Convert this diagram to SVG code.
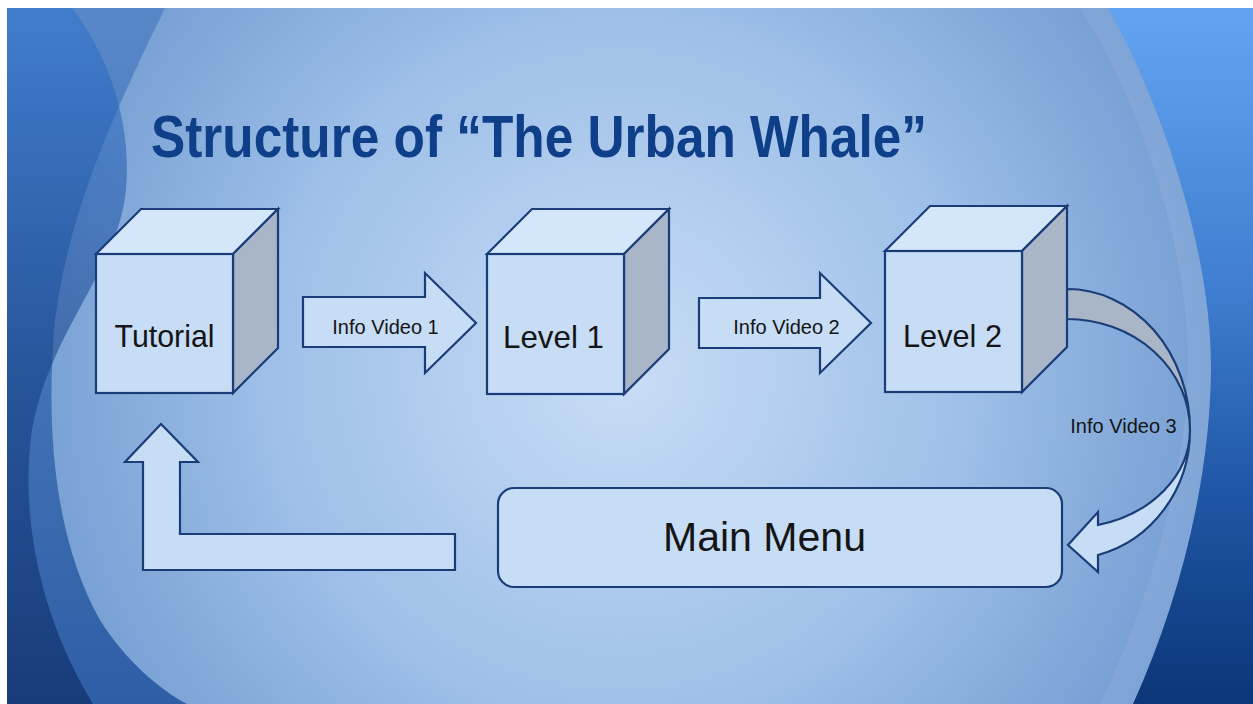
<svg xmlns="http://www.w3.org/2000/svg" width="1253" height="704" viewBox="0 0 1253 704">
<style>
.shp{stroke:#1a3c78;stroke-width:2.2;stroke-linejoin:miter}
.front{fill:#c7dcf5}
.top{fill:#d4e6fa}
.side{fill:#a9b6c8}
.lbl{font-family:"Liberation Sans",Arial,sans-serif;fill:#151515}
.title{font-family:"Liberation Sans",Arial,sans-serif;font-weight:bold;fill:#0f3f88}
</style>
<defs>
<radialGradient id="bg" gradientUnits="userSpaceOnUse" cx="620" cy="370" r="640">
<stop offset="0" stop-color="#c9ddf5"/>
<stop offset="0.55" stop-color="#9dbfe8"/>
<stop offset="1" stop-color="#7099cf"/>
</radialGradient>
<linearGradient id="rightG" x1="0" y1="0" x2="0" y2="1">
<stop offset="0" stop-color="#63a4f2"/>
<stop offset="0.4" stop-color="#3f7ed0"/>
<stop offset="0.7" stop-color="#1f56a4"/>
<stop offset="1" stop-color="#0b3677"/>
</linearGradient>
<linearGradient id="midG" x1="0" y1="0" x2="0" y2="1">
<stop offset="0" stop-color="#5888c8"/>
<stop offset="1" stop-color="#2e5fa6"/>
</linearGradient>
<linearGradient id="darkG" x1="0" y1="0" x2="0" y2="1">
<stop offset="0" stop-color="#2f73d0"/>
<stop offset="0.5" stop-color="#123f88"/>
<stop offset="1" stop-color="#061f55"/>
</linearGradient>
</defs>
<g id="background">
<rect x="0" y="0" width="1253" height="704" fill="#ffffff"/>
<rect x="7" y="8" width="1246" height="696" fill="url(#bg)"/>
<path d="M7,8 L165,8 C128,85 70,200 55,320 C45,430 55,540 100,620 C125,660 160,690 187,704 L7,704 Z" fill="url(#midG)"/>
<path d="M7,8 L72,8 C108,55 132,120 126,190 C118,270 50,330 32,430 C18,530 48,630 93,704 L7,704 Z" fill="url(#darkG)" opacity="0.55"/>
<path d="M1080,8 C1140,100 1190,250 1188,370 C1185,480 1150,600 1100,704 L1133,704 C1180,600 1210,480 1211,370 C1212,250 1160,100 1108,8 Z" fill="#ffffff" opacity="0.07"/>
<path d="M1108,8 C1160,100 1212,250 1211,370 C1210,480 1180,600 1133,704 L1253,704 L1253,8 Z" fill="url(#rightG)"/>
</g>
<text class="title" x="151" y="157" font-size="60" textLength="776" lengthAdjust="spacingAndGlyphs">Structure of “The Urban Whale”</text>
<g id="connectors">
<g id="arrow-info1">
<path class="shp front" d="M303,297 L425,297 L425,273 L476,323 L425,373 L425,347 L303,347 Z"/>
<text class="lbl" x="385.5" y="334" font-size="20" text-anchor="middle">Info Video 1</text>
</g>
<g id="arrow-info2">
<path class="shp front" d="M699,298 L820,298 L820,273 L871,323 L820,373 L820,348 L699,348 Z"/>
<text class="lbl" x="786.5" y="334" font-size="20" text-anchor="middle">Info Video 2</text>
</g>
<g id="arrow-info3">
<path class="shp side" d="M1067,289 A123,141 0 0 1 1190,430 A123,111 0 0 0 1067,319 Z"/>
<path class="shp front" d="M1190,430 A122,98 0 0 1 1098,525 L1098,512 L1068,545 L1098,572 L1098,555 A122,129 0 0 0 1190,430 Z"/>
<text class="lbl" x="1123.5" y="433" font-size="20" text-anchor="middle">Info Video 3</text>
</g>
<g id="arrow-back">
<path class="shp front" d="M161,424 L198,462 L180,462 L180,534 L455,534 L455,570 L143,570 L143,462 L125,462 Z"/>
</g>
</g>
<g id="node-tutorial">
<path class="shp top" d="M96,254 L141,209 L278,209 L233,254 Z"/>
<path class="shp side" d="M233,254 L278,209 L278,348 L233,393 Z"/>
<rect class="shp front" x="96" y="254" width="137" height="139"/>
<text class="lbl" x="164.5" y="347" font-size="32" text-anchor="middle" textLength="100" lengthAdjust="spacingAndGlyphs">Tutorial</text>
</g>
<g id="node-level1">
<path class="shp top" d="M487,254 L532,209 L669,209 L624,254 Z"/>
<path class="shp side" d="M624,254 L669,209 L669,349 L624,394 Z"/>
<rect class="shp front" x="487" y="254" width="137" height="140"/>
<text class="lbl" x="553.5" y="348" font-size="32" text-anchor="middle" textLength="101" lengthAdjust="spacingAndGlyphs">Level 1</text>
</g>
<g id="node-level2">
<path class="shp top" d="M885,251 L930,206 L1067,206 L1022,251 Z"/>
<path class="shp side" d="M1022,251 L1067,206 L1067,347 L1022,392 Z"/>
<rect class="shp front" x="885" y="251" width="137" height="141"/>
<text class="lbl" x="952.5" y="347" font-size="32" text-anchor="middle" textLength="99" lengthAdjust="spacingAndGlyphs">Level 2</text>
</g>
<g id="node-mainmenu">
<rect class="shp front" x="498" y="488" width="564" height="99" rx="16" ry="16"/>
<text class="lbl" x="663" y="551" font-size="40" textLength="203" lengthAdjust="spacingAndGlyphs">Main Menu</text>
</g>
</svg>
